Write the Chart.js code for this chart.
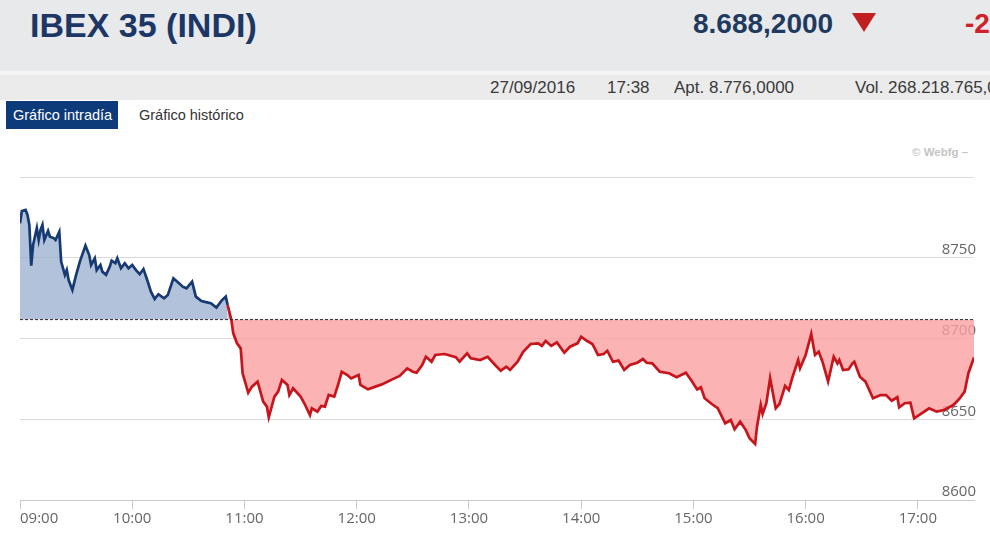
<!DOCTYPE html>
<html>
  <head>
    <meta charset="utf-8">
    <title>IBEX 35 (INDI)</title>
    <script src="https://cdn.jsdelivr.net/npm/chart.js@4"></script>
    <style>
      body { margin: 0; width: 990px; height: 556px; overflow: hidden; background: #fff; font-family: "Liberation Sans", Arial, sans-serif; position: relative; }
      .top { position: absolute; left: 0; top: 0; width: 990px; height: 71px; background: #e8e9eb; }
      .sep { position: absolute; left: 0; top: 71px; width: 990px; height: 4px; background: #f4f4f5; }
      .bar { position: absolute; left: 0; top: 75px; width: 990px; height: 25px; background: #ebebec; }
      .t { position: absolute; white-space: nowrap; }
      #chartBox { position: absolute; left: 0; top: 140px; width: 990px; height: 416px; }
    </style>
  </head>
  <body>
    <div class="top"></div>
    <div class="sep"></div>
    <div class="bar"></div>

    <div class="t" style="left:30px;top:8px;font-size:34px;line-height:34px;font-weight:bold;color:#1c3765;">IBEX 35 (INDI)</div>
    <div class="t" style="left:693px;top:10px;font-size:28px;line-height:28px;font-weight:bold;color:#1f3a5f;">8.688,2000</div>
    <div class="t" style="left:852px;top:13px;width:0;height:0;border-left:12px solid transparent;border-right:12px solid transparent;border-top:19px solid #c0211f;"></div>
    <div class="t" style="left:965px;top:10px;font-size:28px;line-height:28px;font-weight:bold;color:#d0202a;">-2</div>

    <div class="t" style="left:490px;top:75px;font-size:17px;line-height:25px;color:#3a3a3a;">27/09/2016</div>
    <div class="t" style="left:607px;top:75px;font-size:17px;line-height:25px;color:#3a3a3a;">17:38</div>
    <div class="t" style="left:674px;top:75px;font-size:17px;line-height:25px;color:#3a3a3a;">Apt. 8.776,0000</div>
    <div class="t" style="left:855px;top:75px;font-size:17px;line-height:25px;color:#3a3a3a;">Vol. 268.218.765,0</div>

    <div class="t" style="left:6px;top:101px;width:105px;height:28px;padding-left:7px;background:#0d3a78;color:#fff;font-size:14.5px;line-height:28px;">Gráfico intradía</div>
    <div class="t" style="left:139px;top:101px;font-size:14.5px;line-height:28px;color:#333;">Gráfico histórico</div>
    <div class="t" style="left:912px;top:145px;font-size:11.5px;line-height:14px;font-weight:bold;color:#c4c4c4;">© Webfg –</div>

    <div id="chartBox"><canvas id="ibexChart"></canvas></div>

    <script>
    // datos intradía (hora, valor)
    const times = [
      "09:00","09:01","09:03","09:04","09:05","09:06","09:07","09:09","09:10","09:11",
      "09:12","09:13","09:15","09:16","09:18","09:19","09:21","09:22","09:24","09:25",
      "09:26","09:28","09:30","09:32","09:35","09:37","09:38","09:40","09:41","09:43",
      "09:44","09:46","09:48","09:49","09:51","09:52","09:54","09:56","09:58","10:00",
      "10:02","10:04","10:06","10:08","10:10","10:12","10:14","10:17","10:19","10:22",
      "10:25","10:27","10:29","10:32","10:34","10:37","10:40","10:42","10:45","10:48",
      "10:50","10:51","10:53","10:54","10:56","10:58","10:59","11:02","11:04","11:07",
      "11:08","11:10","11:12","11:13","11:16","11:18","11:20","11:23","11:24","11:26",
      "11:30","11:32","11:35","11:36","11:39","11:41","11:43","11:45","11:48","11:50",
      "11:52","11:55","11:57","12:01","12:02","12:06","12:10","12:14","12:19","12:23",
      "12:27","12:30","12:32","12:35","12:37","12:40","12:42","12:47","12:53","12:55",
      "12:59","13:01","13:06","13:10","13:14","13:17","13:20","13:22","13:26","13:29",
      "13:33","13:37","13:39","13:41","13:44","13:47","13:51","13:54","13:58","14:00",
      "14:03","14:06","14:09","14:12","14:14","14:17","14:20","14:23","14:26","14:30",
      "14:33","14:35","14:38","14:42","14:47","14:51","14:56","14:59","15:02","15:04",
      "15:06","15:10","15:13","15:17","15:20","15:22","15:25","15:28","15:30","15:33",
      "15:34","15:36","15:37","15:39","15:41","15:44","15:46","15:49","15:51","15:53",
      "15:56","15:57","16:00","16:03","16:05","16:07","16:09","16:12","16:15","16:17",
      "16:18","16:20","16:23","16:25","16:26","16:29","16:32","16:36","16:40","16:43",
      "16:46","16:49","16:50","16:53","16:56","16:58","17:02","17:06","17:10","17:14",
      "17:19","17:22","17:25","17:27","17:30"
    ];
    const values = [
      8771.3,8778.9,8779.6,8776.5,8770.3,8745.1,8757.9,8768.4,8761.0,8767.2,
      8770.3,8761.0,8766.6,8763.0,8762.2,8761.0,8766.1,8747.6,8739.4,8742.4,
      8736.2,8730.1,8739.4,8747.6,8757.5,8751.7,8745.5,8749.7,8742.4,8745.5,
      8741.4,8739.4,8744.5,8748.2,8746.6,8749.7,8743.5,8746.6,8743.5,8745.5,
      8742.4,8739.8,8743.0,8736.2,8729.0,8724.5,8727.4,8724.9,8726.9,8737.3,
      8734.2,8732.1,8731.1,8735.2,8725.9,8723.2,8722.4,8721.8,8719.1,8723.8,
      8725.9,8720.7,8711.5,8703.2,8697.0,8693.9,8678.4,8666.4,8670.2,8673.3,
      8669.2,8660.9,8657.8,8651.2,8664.0,8667.1,8674.3,8671.2,8665.0,8669.2,
      8664.0,8659.9,8652.6,8656.8,8654.7,8658.2,8657.8,8665.0,8664.0,8671.2,
      8679.4,8677.4,8675.3,8677.4,8671.2,8668.5,8670.2,8671.8,8674.7,8676.8,
      8681.5,8679.4,8678.8,8683.6,8688.7,8685.6,8689.8,8690.4,8688.4,8685.6,
      8690.8,8687.7,8686.7,8688.7,8683.6,8680.1,8682.5,8680.5,8685.6,8691.8,
      8696.6,8697.0,8695.4,8698.5,8695.4,8697.6,8691.2,8694.9,8697.0,8701.1,
      8698.6,8696.6,8689.8,8690.4,8692.4,8685.6,8686.3,8680.5,8683.6,8685.0,
      8687.3,8685.0,8684.6,8679.4,8678.5,8676.0,8678.8,8673.9,8668.5,8669.8,
      8663.0,8659.3,8656.8,8647.5,8649.5,8643.8,8648.5,8643.3,8638.2,8634.7,
      8645.4,8658.8,8653.3,8659.9,8675.4,8656.8,8659.4,8670.6,8668.1,8676.3,
      8686.7,8681.5,8689.8,8702.8,8689.8,8691.8,8685.6,8673.3,8688.7,8684.6,
      8686.7,8680.5,8680.9,8684.6,8685.6,8676.3,8673.3,8663.0,8665.0,8665.0,
      8661.5,8663.6,8657.4,8659.9,8660.2,8650.6,8653.7,8656.8,8654.7,8655.7,
      8658.8,8662.4,8667.1,8678.5,8688.2
    ];
    const prevClose = 8711.7;           // cierre anterior (línea discontinua)
    const hourTicks = ["09:00","10:00","11:00","12:00","13:00","14:00","15:00","16:00","17:00"];
    const sessionEnd = "17:30";
    const yTicks = [8600, 8650, 8700, 8750, 8800];

    function toMin(hhmm) {
      const p = hhmm.split(":");
      return (parseInt(p[0]) - 9) * 60 + parseInt(p[1]);
    }
    function toHour(m) {
      const h = 9 + Math.floor(m / 60), mm = m % 60;
      return (h < 10 ? "0" : "") + h + ":" + (mm < 10 ? "0" : "") + mm;
    }

    const BLUE = "#173a72", RED = "#c8141b";
    const endMin = toMin(sessionEnd);

    const points = times.map((t, i) => ({ x: toMin(t), y: values[i] }));

    const ctx = document.getElementById("ibexChart").getContext("2d");
    new Chart(ctx, {
      type: "line",
      data: {
        datasets: [
          {
            // cierre anterior
            data: [{ x: 0, y: prevClose }, { x: endMin, y: prevClose }],
            borderColor: "#2a2a2a",
            borderWidth: 1,
            borderDash: [3, 2],
            pointRadius: 0,
            fill: false
          },
          {
            data: points,
            borderWidth: 2.7,
            pointRadius: 0,
            tension: 0,
            borderColor: RED,
            segment: {
              borderColor: c => (c.p0.parsed.y >= prevClose && c.p1.parsed.y >= prevClose) ? BLUE : RED
            },
            fill: {
              target: { value: prevClose },
              above: "rgba(152,173,207,0.75)",
              below: "rgba(250,160,160,0.8)"
            }
          }
        ]
      },
      options: {
        responsive: true,
        maintainAspectRatio: false,
        animation: false,
        layout: { padding: { left: 20, top: 37, right: 0, bottom: 0 } },
        plugins: { legend: { display: false }, tooltip: { enabled: false } },
        scales: {
          x: {
            type: "linear",
            min: 0,
            max: endMin,
            afterBuildTicks: s => {
              s.ticks = hourTicks.map(h => ({ value: toMin(h) })).concat([{ value: endMin }]);
            },
            afterFit: s => { s.height = 56; },
            border: { color: "#c9c9c9" },
            grid: {
              drawOnChartArea: false,
              tickLength: 9,
              color: c => (c.tick && c.tick.value === endMin) ? "rgba(0,0,0,0)" : "#c9c9c9"
            },
            ticks: {
              autoSkip: false,
              maxRotation: 0,
              align: "inner",
              padding: 1,
              color: "#666",
              font: { family: "Open Sans", size: 15 },
              callback: v => (v === endMin ? "" : toHour(v))
            }
          },
          y: {
            position: "right",
            min: yTicks[0],
            max: yTicks[yTicks.length - 1],
            afterBuildTicks: s => { s.ticks = yTicks.map(v => ({ value: v })); },
            afterFit: s => { s.width = 16; },
            border: { display: false },
            grid: { color: "#dadada", drawTicks: false },
            ticks: {
              mirror: true,
              padding: 2,
              labelOffset: -8,
              color: "#666",
              font: { family: "Open Sans", size: 15 },
              callback: v => (v === 8800 ? "" : v)
            }
          }
        }
      }
    });
    </script>
  </body>
</html>
